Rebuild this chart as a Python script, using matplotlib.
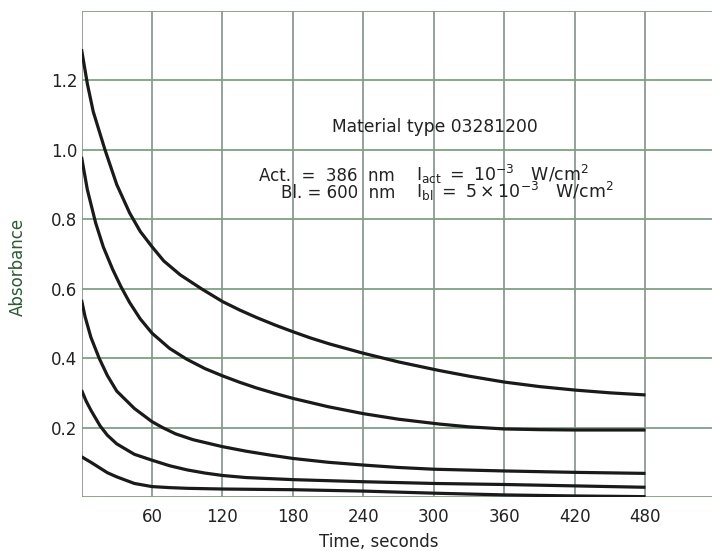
import numpy as np
import matplotlib
matplotlib.use("Agg")
from matplotlib import pyplot as plt

# values (time in s, absorbance)
t1 = [0, 5, 10, 20, 30, 41, 50, 60, 70, 84, 102, 120, 135, 149, 165, 180, 195, 211, 240, 270, 305, 330, 360, 390, 420, 450, 480]
a1 = [1.29, 1.19, 1.11, 1.00, 0.90, 0.818, 0.765, 0.721, 0.68, 0.64, 0.60, 0.563, 0.538, 0.517, 0.495, 0.476, 0.458, 0.441, 0.414, 0.389, 0.364, 0.348, 0.331, 0.318, 0.308, 0.30, 0.294]

t2 = [0, 5, 12, 18.6, 26.6, 33.4, 41, 50, 60, 75, 89.5, 105, 120, 135, 149, 165, 180, 210, 240, 270, 305, 330, 360, 390, 420, 480]
a2 = [0.98, 0.885, 0.79, 0.72, 0.655, 0.607, 0.56, 0.513, 0.472, 0.428, 0.397, 0.37, 0.349, 0.33, 0.314, 0.298, 0.284, 0.26, 0.24, 0.224, 0.21, 0.202, 0.196, 0.194, 0.193, 0.193]

t3 = [0, 3, 8, 15, 22, 30, 45, 60, 69, 80, 95, 120, 140, 160, 180, 210, 240, 270, 300, 360, 420, 480]
a3 = [0.568, 0.52, 0.46, 0.40, 0.35, 0.305, 0.255, 0.217, 0.20, 0.182, 0.165, 0.145, 0.132, 0.121, 0.111, 0.10, 0.092, 0.085, 0.08, 0.075, 0.071, 0.068]

t4 = [0, 4, 8, 15.8, 22, 30, 45, 60, 75, 90, 105, 120, 140, 180, 240, 300, 360, 420, 480]
a4 = [0.308, 0.276, 0.25, 0.205, 0.178, 0.153, 0.123, 0.106, 0.09, 0.078, 0.069, 0.062, 0.056, 0.05, 0.044, 0.039, 0.036, 0.032, 0.028]

t5 = [0, 8, 15, 22, 30, 45, 60, 75, 90, 120, 180, 240, 300, 360, 420, 480]
a5 = [0.116, 0.10, 0.085, 0.07, 0.058, 0.039, 0.03, 0.027, 0.025, 0.023, 0.021, 0.017, 0.011, 0.006, 0.003, 0.001]

xticks = [60, 120, 180, 240, 300, 360, 420, 480]
yticks = [0.2, 0.4, 0.6, 0.8, 1.0, 1.2]

plt.rcParams['font.family'] = ['DejaVu Sans']
plt.rcParams['mathtext.fontset'] = 'dejavusans'

fig = plt.figure(figsize=(7.12, 5.51), dpi=100)
# axes runs a little past the right edge, like the cropped scan
ax = fig.add_axes([81.5 / 712, (551 - 497) / 551, 634.5 / 712, 486 / 551])

ax.set_xlim(0, 540)
ax.set_ylim(0, 1.4)

hcol = '#7f9f86'
vcol = '#8e9a92'
for x in range(0, 541, 60):
    ax.axvline(x, color=vcol, lw=1.3, zorder=1)
for y in np.arange(0, 1.41, 0.2):
    ax.axhline(y, color=hcol, lw=1.3, zorder=1)
for s in ax.spines.values():
    s.set_visible(False)

for t, a in [(t1, a1), (t2, a2), (t3, a3), (t4, a4), (t5, a5)]:
    ax.plot(t, a, color='#1a1a1a', lw=2.3, solid_capstyle='butt',
            solid_joinstyle='round', zorder=3)

ax.set_xticks(xticks)
ax.set_xticklabels([str(v) for v in xticks])
ax.set_yticks(yticks)
ax.set_yticklabels(['%.1f' % v for v in yticks])
ax.tick_params(axis='both', length=0, labelsize=12, colors='#222222')
ax.tick_params(axis='x', pad=8)
ax.tick_params(axis='y', pad=3)

ax.set_xlabel('Time, seconds', fontsize=12, color='#222222')
ax.xaxis.set_label_coords(0.469, -0.074)
ax.set_ylabel('Absorbance', fontsize=12, color='#2d5a35')
ax.yaxis.set_label_coords(-0.086, 0.473)

# annotation block
ax.text(301, 1.067, 'Material type 03281200', ha='center', va='center',
        fontsize=12.3, color='#222222', zorder=4)
ax.text(267, 0.909, 'Act.  =  386  nm', ha='right', va='baseline', fontsize=12, color='#222222')
ax.text(285, 0.909, r'$\mathrm{I}_{\mathrm{act}}\ =\ 10^{-3}\ \ \ \mathrm{W/cm}^{2}$', ha='left',
        va='baseline', fontsize=12.5, color='#222222')
ax.text(267, 0.862, 'Bl. = 600  nm', ha='right', va='baseline', fontsize=12, color='#222222')
ax.text(285, 0.862, r'$\mathrm{I}_{\mathrm{bl}}\ =\ 5 \times 10^{-3}\ \ \ \mathrm{W/cm}^{2}$', ha='left',
        va='baseline', fontsize=12.5, color='#222222')

fig.savefig('out.png', dpi=100, facecolor='white')
